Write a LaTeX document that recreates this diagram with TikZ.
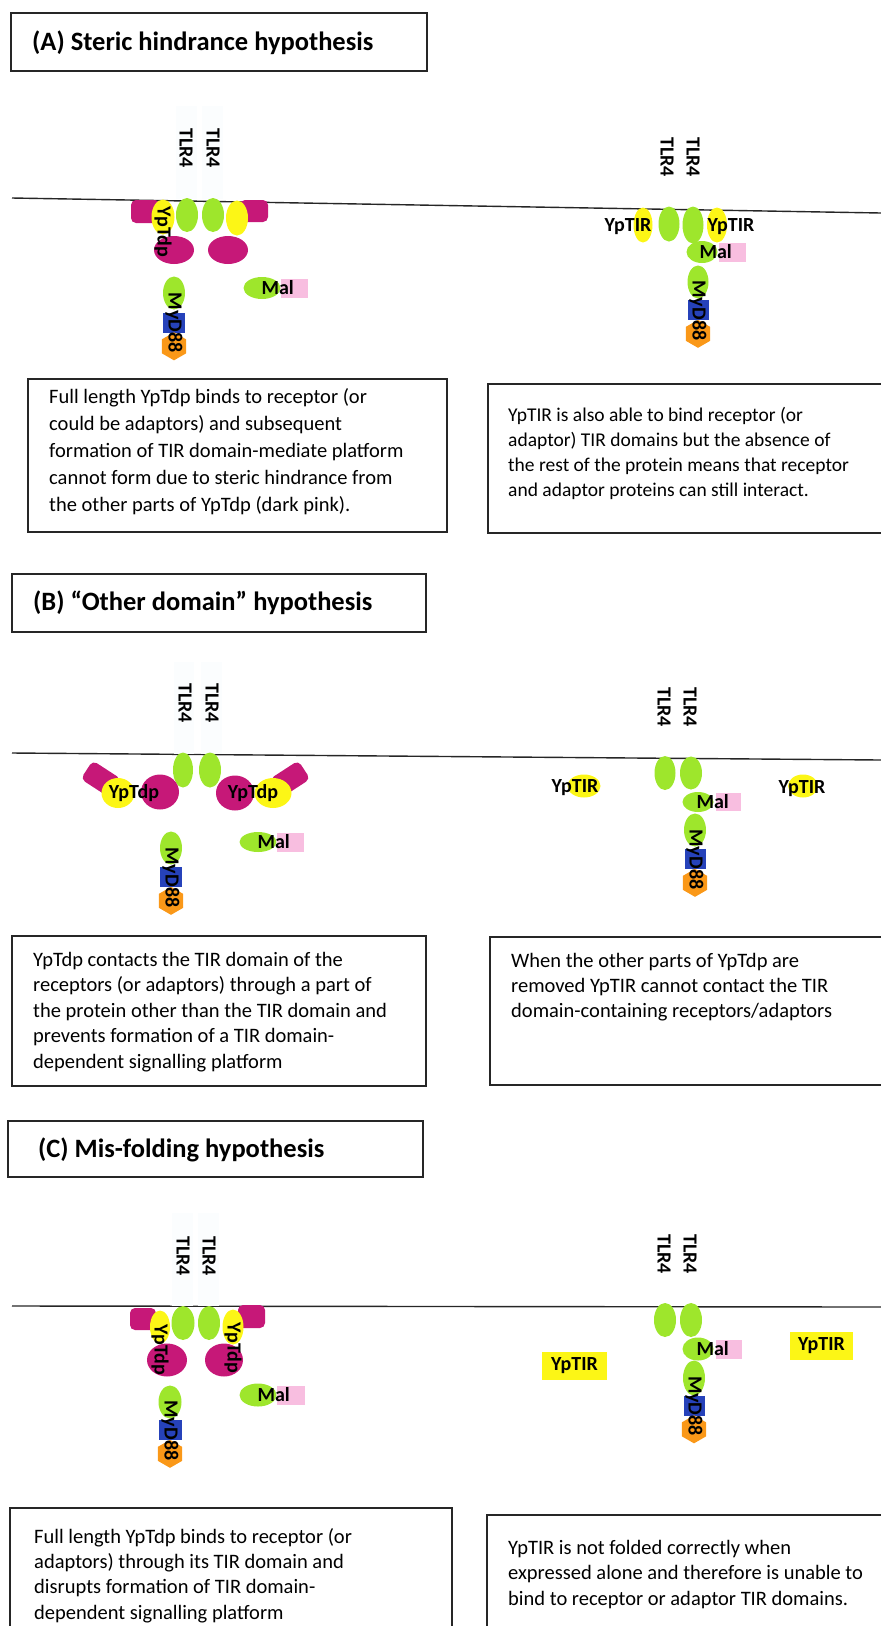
\documentclass[tikz,border=0pt]{standalone}
\usepackage{fontspec}
\setmainfont{Carlito}
\usetikzlibrary{shapes.geometric,positioning}

\definecolor{tirgreen}{RGB}{158,230,44}
\definecolor{tiryellow}{RGB}{252,246,22}
\definecolor{tdpmagenta}{RGB}{198,24,120}
\definecolor{malpink}{RGB}{248,190,224}
\definecolor{ddblue}{RGB}{38,66,186}
\definecolor{dedorange}{RGB}{250,152,24}
\definecolor{hazecol}{RGB}{251,253,254}

\tikzset{
  tir/.style={ellipse,fill=tirgreen,inner sep=0pt,minimum width=22pt,minimum height=34pt},
  tdptir/.style={ellipse,fill=tiryellow,inner sep=0pt,minimum width=22pt,minimum height=35pt},
  tdpglob/.style={ellipse,fill=tdpmagenta,inner sep=0pt,minimum width=40pt,minimum height=28pt},
  tdparm/.style={rectangle,fill=tdpmagenta,rounded corners=5pt,inner sep=0pt,minimum width=34pt,minimum height=22pt},
  maltir/.style={ellipse,fill=tirgreen,inner sep=0pt,minimum width=37pt,minimum height=22pt},
  maltail/.style={rectangle,fill=malpink,inner sep=0pt,minimum width=27pt,minimum height=19pt},
  death/.style={rectangle,fill=ddblue,inner sep=0pt,minimum width=22pt,minimum height=20pt},
  ded/.style={regular polygon,regular polygon sides=6,shape border rotate=90,fill=dedorange,inner sep=0pt,minimum size=28pt},
  lbl/.style={inner sep=0pt,font=\fontsize{20}{20}\selectfont\bfseries},
  vlbl/.style={lbl,rotate=-90},
  membrane/.style={line width=1.4pt,black!85},
  panel/.style={line width=1.2pt,black!85},
  title/.style={anchor=base west,inner sep=0pt,font=\fontsize{26.5}{26.5}\selectfont\bfseries},
  note/.style={anchor=north west,inner sep=0pt,align=left,font=\fontsize{20.5}{27}\selectfont},
}

\begin{document}
\begin{tikzpicture}[x=1pt,y=-1pt]
\useasboundingbox (0,0) rectangle (881,1626);
\clip (0,0) rectangle (881,1626);

%% ---------------- (A) steric hindrance ----------------
\draw[panel] (11,13) rectangle (427,71);
\node[title] (titleA) at (32,50) {(A) Steric hindrance hypothesis};
\draw[membrane] (12,198) -- (881,213);

% full length YpTdp
\fill[hazecol] (176,106) rectangle (197,199);
\fill[hazecol] (202,106) rectangle (223,199);
\node[vlbl] (tlrAa) at (186,148) {TLR4};
\node[vlbl] (tlrAb) at (213,148) {TLR4};
\fill[tdpmagenta,rounded corners=5pt] (131,200) rectangle (160,223);
\fill[tdpmagenta,rounded corners=5pt] (240,200) rectangle (268,222);
\node[tir] (tirAa) at (187,215) {};
\node[tir] (tirAb) at (213,215) {};
\node[tdptir,minimum width=23pt] (tdpAa) at (163,217) {};
\node[tdptir] (tdpAb) at (237,218) {};
\node[tdpglob] (globAa) at (174,250) {};
\node[tdpglob] (globAb) at (228,250) {};
\node[vlbl] at (163,232) {YpTdp};
\node[tir,minimum height=33pt] (mydAa) at (174,293) {};
\node[death,below=3pt of mydAa] (ddAa) {};
\node[ded,below=-1pt of ddAa] (hexAa) {};
\node[vlbl] at (ddAa) {MyD88};
\node[maltir] (malAa) at (262,288) {};
\node[maltail,right=0pt of malAa] (tailAa) {};
\node[lbl] at ([xshift=-3pt]tailAa.west) {Mal};

% YpTIR alone
\node[vlbl] (tlrAc) at (667,157) {TLR4};
\node[vlbl] (tlrAd) at (693,157) {TLR4};
\node[tir,minimum width=21pt,minimum height=35pt] (tirAc) at (669,224) {};
\node[tir,minimum width=21pt,minimum height=37pt] (tirAd) at (693,225) {};
\node[tdptir,minimum width=19pt] (tipAa) at (643,225) {};
\node[tdptir,minimum width=20pt] (tipAb) at (717,225) {};
\node[lbl] at (628,227) {YpTIR};
\node[lbl] at (731,227) {YpTIR};
\node[maltir,minimum width=31pt] (malAb) at (702,252) {};
\node[maltail,right=1pt of malAb] (tailAb) {};
\node[lbl] at ([xshift=-3pt]tailAb.west) {Mal};
\node[tir,minimum width=21pt,minimum height=33pt] (mydAb) at (698,282) {};
\node[death,minimum width=21pt,below=1.5pt of mydAb] (ddAb) {};
\node[ded,below=-1pt of ddAb] (hexAb) {};
\node[vlbl] at (ddAb) {MyD88};

\draw[panel] (28,379) rectangle (447,532);
\node[note] (noteAa) at (49,388) {Full length YpTdp binds to receptor (or\\
could be adaptors) and subsequent\\
formation of TIR domain-mediate platform\\
cannot form due to steric hindrance from\\
the other parts of YpTdp (dark pink).};
\draw[panel] (488,384) rectangle (900,533);
\node[note,font=\fontsize{19.5}{25}\selectfont] (noteAb) at (508,407) {YpTIR is also able to bind receptor (or\\
adaptor) TIR domains but the absence of\\
the rest of the protein means that receptor\\
and adaptor proteins can still interact.};

%% ---------------- (B) other domain ----------------
\draw[panel] (12,574) rectangle (426,632);
\node[title] (titleB) at (33,610) {(B) “Other domain” hypothesis};
\draw[membrane] (12,753) -- (881,760);

% YpTdp holding on by its other domains
\fill[hazecol] (174,662) rectangle (194,754);
\fill[hazecol] (201,662) rectangle (222,754);
\node[vlbl] (tlrBa) at (185,703) {TLR4};
\node[vlbl] (tlrBb) at (212,703) {TLR4};
\node[tir,minimum width=20pt,minimum height=35pt] (tirBa) at (183,770) {};
\node[tir,minimum height=35pt] (tirBb) at (210,770) {};
\node[tdparm,rotate=-33] (armBa) at (101,779) {};
\node[tdparm,rotate=33] (armBb) at (290,779) {};
\node[tdptir,minimum width=33pt,minimum height=30pt] (tdpBa) at (118,793) {};
\node[tdptir,minimum width=37pt,minimum height=30pt] (tdpBb) at (273,793) {};
\node[tdpglob,minimum width=38pt,minimum height=35pt] (globBa) at (160,792) {};
\node[tdpglob,minimum width=38pt,minimum height=35pt] (globBb) at (235,793) {};
\node[lbl] at (134,793) {YpTdp};
\node[lbl] at (253,793) {YpTdp};
\node[tir,minimum height=33pt] (mydBa) at (171,848) {};
\node[death,below=2.5pt of mydBa] (ddBa) {};
\node[ded,below=-1pt of ddBa] (hexBa) {};
\node[vlbl] at (ddBa) {MyD88};
\node[maltir,minimum height=20pt] (malBa) at (258,842) {};
\node[maltail,right=0pt of malBa] (tailBa) {};
\node[lbl] at ([xshift=-3pt]tailBa.west) {Mal};

% YpTIR left out
\node[vlbl] (tlrBc) at (664,707) {TLR4};
\node[vlbl] (tlrBd) at (690,707) {TLR4};
\node[tir,minimum width=21pt] (tirBc) at (665,773) {};
\node[tir,minimum height=33pt] (tirBd) at (691,773) {};
\node[maltir,minimum width=31pt,minimum height=20pt] (malBb) at (698,802) {};
\node[maltail,minimum width=25pt,minimum height=18pt,right=2pt of malBb] (tailBb) {};
\node[lbl] at ([xshift=-3pt]tailBb.west) {Mal};
\node[tir,minimum height=33pt] (mydBb) at (695,830) {};
\node[death,minimum width=21pt,below=2.5pt of mydBb] (ddBb) {};
\node[ded,below=-1pt of ddBb] (hexBb) {};
\node[vlbl] at (ddBb) {MyD88};
\node[ellipse,fill=tiryellow,inner sep=0pt,minimum width=33pt,minimum height=23pt] (tipBa) at (584,786) {};
\node[ellipse,fill=tiryellow,inner sep=0pt,minimum width=30pt,minimum height=23pt] (tipBb) at (803,786) {};
\node[lbl] at (575,788) {YpTIR};
\node[lbl] at (802,789) {YpTIR};

\draw[panel] (12,936) rectangle (426,1086);
\node[note,font=\fontsize{20.5}{25.5}\selectfont] (noteBa) at (33,952) {YpTdp contacts the TIR domain of the\\
receptors (or adaptors) through a part of\\
the protein other than the TIR domain and\\
prevents formation of a TIR domain-\\
dependent signalling platform};
\draw[panel] (490,937) rectangle (900,1085);
\node[note,font=\fontsize{20.5}{25}\selectfont] (noteBb) at (511,953) {When the other parts of YpTdp are\\
removed YpTIR cannot contact the TIR\\
domain-containing receptors/adaptors};

%% ---------------- (C) mis-folding ----------------
\draw[panel] (8,1121) rectangle (423,1177);
\node[title] (titleC) at (38,1157) {(C) Mis-folding hypothesis};
\draw[membrane] (12,1306) -- (881,1307);

% full length YpTdp through its TIR domain
\fill[hazecol] (172,1213) rectangle (193,1306);
\fill[hazecol] (198,1213) rectangle (219,1306);
\node[vlbl] (tlrCa) at (183,1256) {TLR4};
\node[vlbl] (tlrCb) at (209,1256) {TLR4};
\fill[tdpmagenta,rounded corners=5pt] (130,1308) rectangle (156,1330);
\fill[tdpmagenta,rounded corners=5pt] (238,1305) rectangle (265,1328);
\node[tir,minimum width=23pt] (tirCa) at (183,1323) {};
\node[tir] (tirCb) at (209,1323) {};
\node[tdptir,minimum width=20pt,minimum height=33pt] (tdpCa) at (160,1327) {};
\node[tdptir,minimum width=21pt] (tdpCb) at (233,1327) {};
\node[tdpglob,minimum height=33pt] (globCa) at (167,1360) {};
\node[tdpglob,minimum width=38pt,minimum height=33pt] (globCb) at (224,1360) {};
\node[vlbl] at (160,1350) {YpTdp};
\node[vlbl] at (233,1348) {YpTdp};
\node[tir,minimum width=23pt,minimum height=33pt] (mydCa) at (170,1402) {};
\node[death,minimum width=23pt,below=1.5pt of mydCa] (ddCa) {};
\node[ded,below=-1pt of ddCa] (hexCa) {};
\node[vlbl] at (ddCa) {MyD88};
\node[maltir,minimum height=23pt] (malCa) at (258,1395) {};
\node[maltail,minimum width=28pt,right=0pt of malCa] (tailCa) {};
\node[lbl] at ([xshift=-3pt]tailCa.west) {Mal};

% unfolded YpTIR
\node[vlbl] (tlrCc) at (664,1254) {TLR4};
\node[vlbl] (tlrCd) at (690,1254) {TLR4};
\node[tir] (tirCc) at (665,1320) {};
\node[tir] (tirCd) at (691,1320) {};
\node[maltir,minimum width=31pt,minimum height=23pt] (malCb) at (698,1349) {};
\node[maltail,minimum width=26pt,right=2pt of malCb] (tailCb) {};
\node[lbl] at ([xshift=-3pt]tailCb.west) {Mal};
\node[tir,minimum height=35pt] (mydCb) at (694,1378) {};
\node[death,minimum width=21pt,below=0pt of mydCb] (ddCb) {};
\node[ded,below=-1pt of ddCb] (hexCb) {};
\node[vlbl] at (ddCb) {MyD88};
\node[lbl,fill=tiryellow,minimum width=65pt,minimum height=28pt] (tipCa) at (574.5,1366) {YpTIR};
\node[lbl,fill=tiryellow,minimum width=63pt,minimum height=28pt] (tipCb) at (821.5,1346) {YpTIR};

\draw[panel] (10,1508) rectangle (452,1660);
\node[note,font=\fontsize{20.5}{25.3}\selectfont] (noteCa) at (34,1528) {Full length YpTdp binds to receptor (or\\
adaptors) through its TIR domain and\\
disrupts formation of TIR domain-\\
dependent signalling platform};
\draw[panel] (487,1515) rectangle (900,1660);
\node[note,font=\fontsize{20.5}{25.5}\selectfont] (noteCb) at (508,1540) {YpTIR is not folded correctly when\\
expressed alone and therefore is unable to\\
bind to receptor or adaptor TIR domains.};
\end{tikzpicture}
\end{document}
